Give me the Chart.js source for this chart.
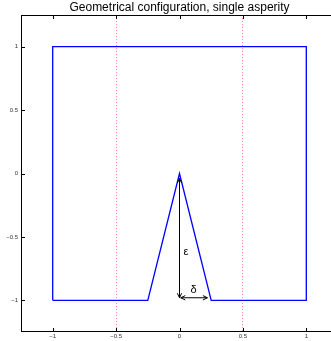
<!DOCTYPE html>
<html>
<head>
<meta charset="utf-8">
<script src="https://cdn.jsdelivr.net/npm/chart.js@4/dist/chart.umd.min.js"></script>
<style>
  body { margin: 0; overflow: hidden; background: #fff; }
</style>
</head>
<body>
<canvas id="myChart" width="340" height="341"></canvas>
<script>
'use strict';

// outline of the domain (box with one asperity)
const boxX = [-1, -1, 1, 1, 0.25, 0, -0.25, -1];
const boxY = [-1, 1, 1, -1, -1, 0, -1, -1];

// arrows for epsilon (height) and delta (half width)
const epsX = [0, 0];
const epsY = [-0.04, -0.98];
const deltaX = [0.01, 0.22];
const deltaY = [-0.98, -0.98];

// annotation labels
const labelText = ['ε', 'δ'];
const labelX = [0.05, 0.11];
const labelY = [-0.62, -0.92];

// ticks
const tickVals = [-1, -0.5, 0, 0.5, 1];
const tickLabels = ['\u22121', '\u22120.5', '0', '0.5', '1'];
const redGrid = [-0.5, 0.5];

const titleText = 'Geometrical configuration, single asperity';

function toPoints(xs, ys) {
  let pts = [];
  for (let i = 0; i < xs.length; i++) {
    pts.push({ x: xs[i], y: ys[i] });
  }
  return pts;
}

function labelFor(v) {
  let i = tickVals.indexOf(v);
  return i >= 0 ? tickLabels[i] : '';
}

// title over the plot area, frame with inward ticks, arrow heads, greek labels
const extrasPlugin = {
  id: 'extras',
  afterDatasetsDraw(chart) {
    const ctx = chart.ctx;
    const a = chart.chartArea;
    const xs = chart.scales.x;
    const ys = chart.scales.y;

    ctx.save();
    ctx.fillStyle = '#000';
    ctx.font = '12px "Liberation Sans", Arial, sans-serif';
    ctx.textAlign = 'center';
    ctx.textBaseline = 'alphabetic';
    ctx.fillText(titleText, (a.left + a.right) / 2, 11);

    ctx.strokeStyle = '#000';
    ctx.lineWidth = 1;
    ctx.strokeRect(a.left + 0.5, a.top + 0.5, a.right - a.left - 1, a.bottom - a.top - 1);

    ctx.beginPath();
    for (let i = 0; i < tickVals.length; i++) {
      let px = Math.round(xs.getPixelForValue(tickVals[i])) + 0.5;
      ctx.moveTo(px, a.bottom);
      ctx.lineTo(px, a.bottom - 4);
      ctx.moveTo(px, a.top);
      ctx.lineTo(px, a.top + 4);
      let py = Math.round(ys.getPixelForValue(tickVals[i])) + 0.5;
      ctx.moveTo(a.left, py);
      ctx.lineTo(a.left + 4, py);
      ctx.moveTo(a.right, py);
      ctx.lineTo(a.right - 4, py);
    }
    ctx.stroke();

    // arrow heads on both ends
    chart.data.datasets.forEach(function (ds) {
      if (!ds.arrow) return;
      let p0 = ds.data[0];
      let p1 = ds.data[ds.data.length - 1];
      let x0 = xs.getPixelForValue(p0.x), y0 = ys.getPixelForValue(p0.y);
      let x1 = xs.getPixelForValue(p1.x), y1 = ys.getPixelForValue(p1.y);
      drawHead(ctx, x0, y0, x1, y1);
      drawHead(ctx, x1, y1, x0, y0);
    });

    ctx.fillStyle = '#000';
    ctx.font = '11px "Liberation Sans", Arial, sans-serif';
    ctx.textAlign = 'center';
    ctx.textBaseline = 'middle';
    for (let i = 0; i < labelText.length; i++) {
      ctx.fillText(labelText[i], xs.getPixelForValue(labelX[i]), ys.getPixelForValue(labelY[i]));
    }
    ctx.restore();
  }
};

function drawHead(ctx, fx, fy, tx, ty) {
  let ang = Math.atan2(ty - fy, tx - fx);
  let len = 5;
  ctx.beginPath();
  ctx.moveTo(tx - len * Math.cos(ang - 0.45), ty - len * Math.sin(ang - 0.45));
  ctx.lineTo(tx, ty);
  ctx.lineTo(tx - len * Math.cos(ang + 0.45), ty - len * Math.sin(ang + 0.45));
  ctx.strokeStyle = '#000';
  ctx.lineWidth = 1;
  ctx.stroke();
}

const ctx = document.getElementById('myChart').getContext('2d');
const myChart = new Chart(ctx, {
  type: 'scatter',
  data: {
    datasets: [{
      data: toPoints(boxX, boxY),
      showLine: true,
      borderColor: '#0000ff',
      borderWidth: 1.3,
      pointRadius: 0,
      tension: 0
    }, {
      data: toPoints(epsX, epsY),
      showLine: true,
      arrow: true,
      borderColor: '#000',
      borderWidth: 1,
      pointRadius: 0
    }, {
      data: toPoints(deltaX, deltaY),
      showLine: true,
      arrow: true,
      borderColor: '#000',
      borderWidth: 1,
      pointRadius: 0
    }]
  },
  options: {
    responsive: false,
    animation: false,
    devicePixelRatio: 1,
    layout: { padding: { left: 0, right: 2, top: 15, bottom: 0 } },
    plugins: {
      legend: { display: false },
      tooltip: { enabled: false },
      title: { display: false }
    },
    scales: {
      x: {
        type: 'linear',
        min: -1.25,
        max: 1.25,
        afterBuildTicks(scale) {
          scale.ticks = tickVals.map(v => ({ value: v }));
        },
        afterFit(scale) { scale.height = 9; },
        ticks: {
          callback: v => labelFor(v),
          font: { size: 6, family: '"Liberation Sans", Arial, sans-serif' },
          color: '#333',
          padding: 1,
          maxRotation: 0,
          autoSkip: false
        },
        grid: {
          drawTicks: false,
          color: c => (c.tick && redGrid.indexOf(c.tick.value) >= 0) ? 'rgba(255,0,0,0.45)' : 'rgba(0,0,0,0)',
          lineWidth: 1
        },
        border: { display: false, dash: [1, 2] }
      },
      y: {
        type: 'linear',
        min: -1.25,
        max: 1.25,
        afterBuildTicks(scale) {
          scale.ticks = tickVals.map(v => ({ value: v }));
        },
        afterFit(scale) { scale.width = 21; },
        ticks: {
          callback: v => labelFor(v),
          font: { size: 6, family: '"Liberation Sans", Arial, sans-serif' },
          color: '#333',
          padding: 3,
          autoSkip: false
        },
        grid: { display: false, drawTicks: false },
        border: { display: false }
      }
    }
  },
  plugins: [extrasPlugin]
});
</script>
</body>
</html>
